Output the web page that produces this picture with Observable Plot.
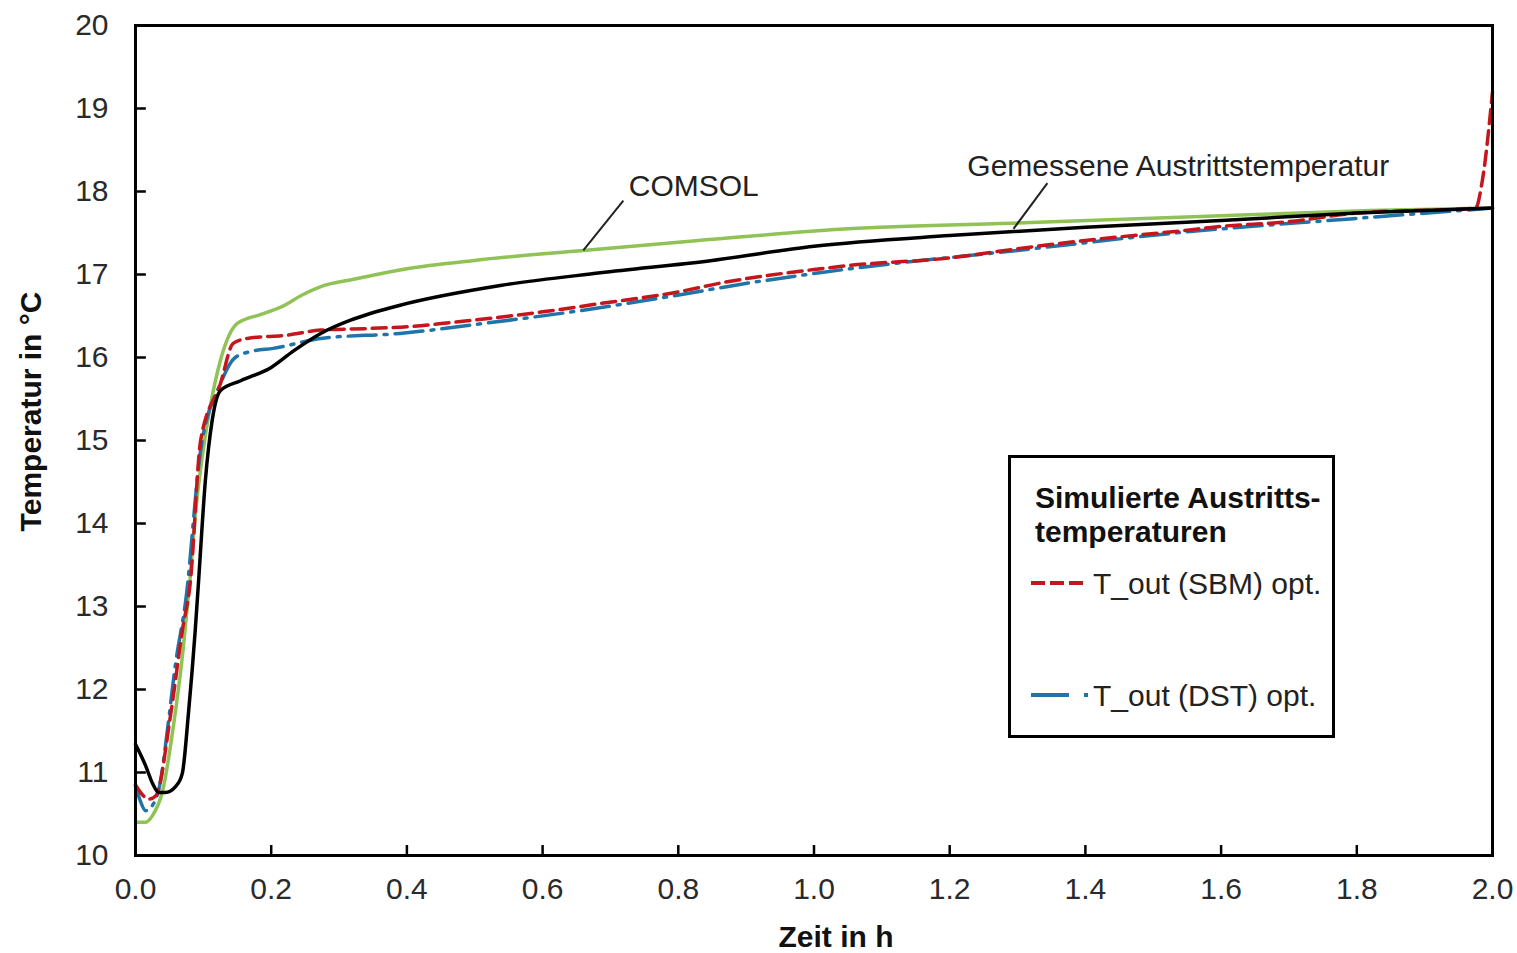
<!DOCTYPE html>
<html>
<head>
<meta charset="utf-8">
<script src="https://cdn.jsdelivr.net/npm/d3@7"></script>
<script src="https://cdn.jsdelivr.net/npm/@observablehq/plot@0.6"></script>
<style>
  body { margin: 0; background: #fff; }
  #wrap { position: relative; width: 1517px; height: 953px; font-family: "Liberation Sans", Arial, sans-serif; }
  #legend { position: absolute; left: 1008px; top: 455px; width: 321px; height: 277px; border: 3px solid #000; background: #fff; }
</style>
</head>
<body>
<div id="wrap"></div>
<script>
// ---- data (time in h, temperature in °C) ----
const comsolT = [0, 0.015, 0.025, 0.04, 0.055, 0.07, 0.08, 0.09, 0.1, 0.11, 0.125, 0.15, 0.185, 0.215, 0.245, 0.275, 0.32, 0.4, 0.5, 0.66, 0.83, 1.05, 1.3, 1.57, 1.82, 2.0];
const comsolY = [10.40, 10.40, 10.48, 10.78, 11.51, 12.47, 13.3, 14.25, 14.9, 15.4, 15.96, 16.41, 16.52, 16.61, 16.75, 16.86, 16.94, 17.07, 17.17, 17.29, 17.41, 17.55, 17.62, 17.70, 17.77, 17.80];

const measT = [0, 0.015, 0.025, 0.034, 0.044, 0.059, 0.069, 0.078, 0.088, 0.093, 0.103, 0.113, 0.125, 0.155, 0.2, 0.233, 0.273, 0.317, 0.346, 0.39, 0.54, 0.685, 0.85, 1.0, 1.2, 1.4, 1.6, 1.8, 2.0];
const measY = [11.34, 11.08, 10.87, 10.76, 10.76, 10.83, 10.99, 11.71, 12.71, 13.31, 14.52, 15.24, 15.60, 15.72, 15.88, 16.08, 16.29, 16.45, 16.53, 16.63, 16.87, 17.02, 17.17, 17.34, 17.47, 17.57, 17.65, 17.74, 17.80];

const sbmT = [0, 0.02, 0.03, 0.052, 0.069, 0.081, 0.096, 0.125, 0.144, 0.165, 0.224, 0.273, 0.346, 0.4, 0.464, 0.6, 0.685, 0.8, 0.858, 1.0, 1.054, 1.2, 1.3, 1.4, 1.545, 1.6, 1.692, 1.8, 1.975, 1.985, 2.0];
const sbmY = [10.85, 10.68, 10.72, 11.71, 12.71, 13.31, 15.0, 15.68, 16.17, 16.23, 16.27, 16.33, 16.35, 16.37, 16.42, 16.55, 16.65, 16.79, 16.89, 17.06, 17.11, 17.20, 17.31, 17.41, 17.53, 17.58, 17.63, 17.74, 17.80, 18.13, 19.2];

const dstT = [0, 0.007, 0.015, 0.027, 0.037, 0.047, 0.059, 0.074, 0.096, 0.125, 0.147, 0.174, 0.203, 0.273, 0.39, 0.513, 0.66, 0.784, 0.906, 1.054, 1.3, 1.545, 1.79, 2.0];
const dstY = [10.84, 10.66, 10.54, 10.63, 10.90, 11.51, 12.31, 13.07, 14.88, 15.68, 16.0, 16.08, 16.11, 16.23, 16.29, 16.41, 16.57, 16.73, 16.90, 17.07, 17.29, 17.51, 17.67, 17.80];

const xTicks = [0, 0.2, 0.4, 0.6, 0.8, 1.0, 1.2, 1.4, 1.6, 1.8, 2.0];
const yTicks = [10, 11, 12, 13, 14, 15, 16, 17, 18, 19, 20];

const annoLabels = ["COMSOL", "Gemessene Austrittstemperatur"];
const annoTextX = [0.727, 1.226];
const annoTextY = [18.06, 18.30];
const annoFromX = [0.719, 1.344];
const annoFromY = [17.89, 18.10];
const annoToX = [0.66, 1.294];
const annoToY = [17.29, 17.55];

const legendLabels = ["T_out (SBM) opt.", "T_out (DST) opt."];
const legendTitle = ["Simulierte Austritts-", "temperaturen"];

// ---- build ----
const rows = (t, v) => t.map((x, i) => ({t: x, v: v[i]}));
const comsol = rows(comsolT, comsolY);
const meas = rows(measT, measY);
const sbm = rows(sbmT, sbmY);
const dst = rows(dstT, dstY);
const anno = annoLabels.map((s, i) => ({s, tx: annoTextX[i], ty: annoTextY[i], x1: annoFromX[i], y1: annoFromY[i], x2: annoToX[i], y2: annoToY[i]}));

const GREEN = "#90c256", RED = "#c4161c", BLUE = "#1f74aa";
const FONT = "Liberation Sans, Arial, sans-serif";

const chart = Plot.plot({
  width: 1517,
  height: 953,
  marginLeft: 135,
  marginRight: 25,
  marginTop: 25,
  marginBottom: 98,
  style: {fontFamily: FONT, fontSize: "30px", background: "white", overflow: "visible"},
  x: {domain: [0, 2]},
  y: {domain: [10, 20]},
  marks: [
    Plot.axisX({ticks: xTicks, tickFormat: d3.format(".1f"), tickSize: 0, tickPadding: 22, label: null, fontSize: 30, color: "#2a2a2a"}),
    Plot.axisY({ticks: yTicks, tickSize: 0, tickPadding: 27, label: null, fontSize: 30, color: "#2a2a2a"}),
    Plot.ruleX(xTicks, {x: d => d, y1: 10, y2: 10.12, stroke: "#000", strokeWidth: 2.5}),
    Plot.ruleY(yTicks, {y: d => d, x1: 0, x2: 0.016, stroke: "#000", strokeWidth: 2.5}),
    Plot.line(comsol, {x: "t", y: "v", stroke: GREEN, strokeWidth: 3.5, curve: "monotone-x"}),
    Plot.line(dst, {x: "t", y: "v", stroke: BLUE, strokeWidth: 3.5, strokeDasharray: "28,8,3,8", curve: "monotone-x"}),
    Plot.line(sbm, {x: "t", y: "v", stroke: RED, strokeWidth: 3.5, strokeDasharray: "14,7", curve: "monotone-x"}),
    Plot.line(meas, {x: "t", y: "v", stroke: "#000", strokeWidth: 3.5, curve: "monotone-x"}),
    Plot.link(anno, {x1: "x1", y1: "y1", x2: "x2", y2: "y2", stroke: "#222", strokeWidth: 2}),
    Plot.text(anno, {x: "tx", y: "ty", text: "s", textAnchor: "start", fontSize: 30, fill: "#222"}),
    Plot.frame({stroke: "#000", strokeWidth: 3}),
    Plot.text(["Temperatur in °C"], {frameAnchor: "left", textAnchor: "middle", dx: -104, dy: -29, rotate: -90, fontWeight: "bold", fontSize: 30, fill: "#111"}),
    Plot.text(["Zeit in h"], {frameAnchor: "bottom", textAnchor: "middle", dx: 22, dy: 91, fontWeight: "bold", fontSize: 30, fill: "#111"})
  ]
});

const wrap = document.getElementById("wrap");
wrap.appendChild(chart);

// ---- legend ----
const leg = document.createElement("div");
leg.id = "legend";
leg.innerHTML = `
<svg width="321" height="277" style="font-family:${FONT}">
  <text x="24" y="50" font-size="30" font-weight="bold" fill="#111">${legendTitle[0]}</text>
  <text x="24" y="84" font-size="30" font-weight="bold" fill="#111">${legendTitle[1]}</text>
  <line x1="20" x2="73" y1="125" y2="125" stroke="${RED}" stroke-width="4" stroke-dasharray="14,5"/>
  <text x="82" y="125" dy="0.35em" font-size="30" fill="#222">${legendLabels[0]}</text>
  <line x1="20" x2="58" y1="237" y2="237" stroke="${BLUE}" stroke-width="4"/>
  <line x1="73" x2="77" y1="237" y2="237" stroke="${BLUE}" stroke-width="4"/>
  <text x="82" y="237" dy="0.35em" font-size="30" fill="#222">${legendLabels[1]}</text>
</svg>`;
wrap.appendChild(leg);
</script>
</body>
</html>
